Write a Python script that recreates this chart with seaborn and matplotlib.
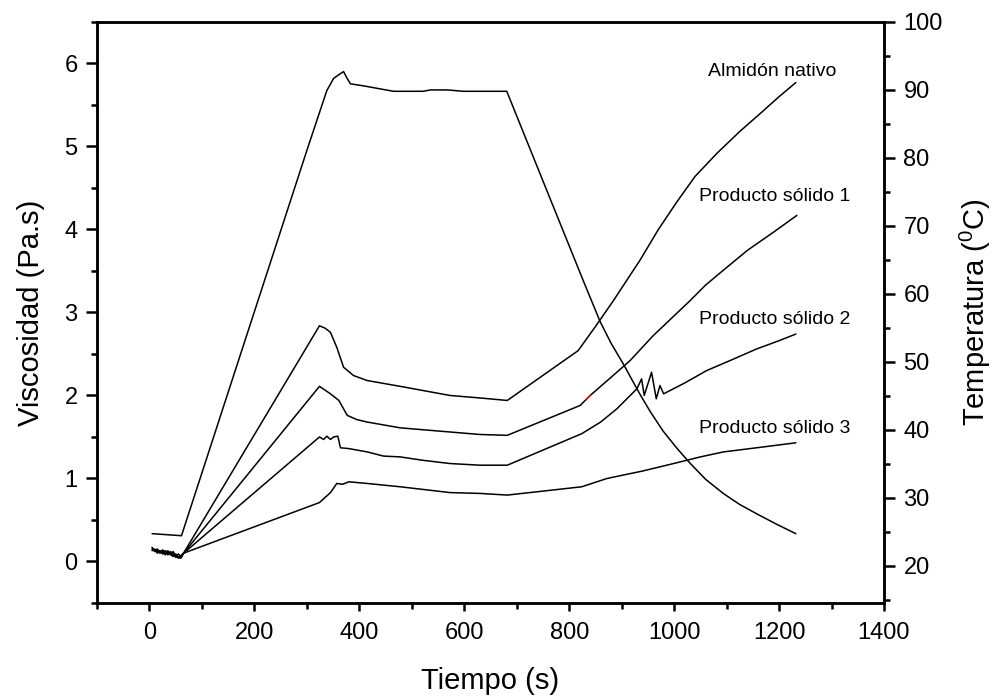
import numpy as np
import pandas as pd
import matplotlib
matplotlib.use("Agg")
import matplotlib.pyplot as plt
import seaborn as sns
from matplotlib.ticker import MultipleLocator

# ---------------- data ----------------
t_start = [5, 10, 15, 20, 25, 30, 35, 40, 45, 50, 55, 60]

an_start = [0.16, 0.13, 0.15, 0.11, 0.14, 0.10, 0.13, 0.08, 0.12, 0.07, 0.09, 0.06]
an_t = [65, 324, 335, 345, 357, 370, 389, 415, 478, 573, 630, 682, 817, 850, 884, 910, 935, 970, 1005,
        1040, 1082, 1125, 1170, 1200, 1232]
an_v = [0.10, 2.84, 2.81, 2.76, 2.58, 2.34, 2.24, 2.18, 2.11, 2.00, 1.97, 1.94, 2.54, 2.83, 3.14, 3.39, 3.63, 4.00, 4.33,
        4.64, 4.92, 5.18, 5.43, 5.60, 5.77]

ps1_start = [0.14, 0.15, 0.12, 0.13, 0.09, 0.12, 0.10, 0.12, 0.07, 0.09, 0.05, 0.07]
ps1_t = [65, 324, 345, 361, 377, 395, 415, 478, 573, 630, 682, 821, 832, 840, 880, 916, 960, 1000, 1030,
         1060, 1094, 1140, 1190, 1234]
ps1_v = [0.10, 2.11, 2.02, 1.94, 1.76, 1.71, 1.68, 1.61, 1.56, 1.53, 1.52, 1.88, 1.95, 2.00, 2.22, 2.42, 2.72, 2.96, 3.14,
         3.33, 3.51, 3.75, 3.97, 4.17]

ps2_start = [0.17, 0.12, 0.13, 0.10, 0.12, 0.08, 0.11, 0.09, 0.06, 0.08, 0.04, 0.05]
ps2_t = [65, 324, 332, 338, 345, 351, 359, 364, 380, 415, 446, 478, 520, 573, 630, 682, 824, 860, 891, 929,
         938, 943, 957, 966, 973, 980, 1020, 1062, 1110, 1157, 1200, 1232]
ps2_v = [0.10, 1.50, 1.47, 1.51, 1.47, 1.50, 1.51, 1.37, 1.36, 1.32, 1.27, 1.26, 1.22, 1.18, 1.16, 1.16, 1.54, 1.68, 1.84, 2.08,
         2.20, 2.00, 2.28, 1.96, 2.12, 2.02, 2.15, 2.30, 2.43, 2.56, 2.66, 2.74]

ps3_start = [0.13, 0.14, 0.10, 0.12, 0.11, 0.13, 0.08, 0.10, 0.09, 0.05, 0.06, 0.04]
ps3_t = [65, 324, 345, 357, 368, 380, 415, 478, 573, 630, 682, 824, 872, 940, 999, 1050, 1094, 1170, 1232]
ps3_v = [0.10, 0.71, 0.83, 0.94, 0.93, 0.96, 0.94, 0.90, 0.83, 0.82, 0.80, 0.90, 1.00, 1.09, 1.18, 1.26, 1.32, 1.38, 1.43]

temp_t = [5, 61, 300, 338, 351, 362, 370, 376, 383, 408, 465, 522, 535, 568, 598, 681, 760, 827, 859, 880, 903,
          935, 955, 979, 1005, 1030, 1060, 1094, 1125, 1158, 1195, 1232]
temp_c = [24.7, 24.4, 81.1, 89.9, 91.7, 92.3, 92.7, 91.8, 90.9, 90.6, 89.8, 89.8, 90.0, 90.0, 89.8, 89.8, 74.7, 61.9, 55.9, 52.7, 49.7,
          45.2, 42.6, 39.8, 37.3, 35.1, 32.7, 30.6, 29.0, 27.6, 26.1, 24.7]

series_names = ["Almidón nativo", "Producto sólido 1", "Producto sólido 2", "Producto sólido 3"]
label_t = [1187, 1192, 1192, 1192]
label_v = [5.90, 4.40, 2.92, 1.60]

# ---------------- build tables ----------------
frames = []
for name, s, tt, vv in zip(series_names,
                           [an_start, ps1_start, ps2_start, ps3_start],
                           [an_t, ps1_t, ps2_t, ps3_t],
                           [an_v, ps1_v, ps2_v, ps3_v]):
    frames.append(pd.DataFrame({"t": list(t_start) + list(tt), "v": list(s) + list(vv), "serie": name}))
visc = pd.concat(frames, ignore_index=True)
temp = pd.DataFrame({"t": temp_t, "T": temp_c})
red = visc[(visc.serie == "Producto sólido 1") & (visc.t >= 832) & (visc.t <= 840)]

# ---------------- style ----------------
sns.set_theme(style="white")
plt.rcParams["font.family"] = ["Liberation Sans", "DejaVu Sans"]
plt.rcParams["mathtext.fontset"] = "custom"
plt.rcParams["mathtext.rm"] = "Liberation Sans"
plt.rcParams["mathtext.it"] = "Liberation Sans:italic"
plt.rcParams["text.color"] = "black"
plt.rcParams["axes.labelcolor"] = "black"
plt.rcParams["xtick.color"] = "black"
plt.rcParams["ytick.color"] = "black"

fig = plt.figure(figsize=(9.93, 7.0), dpi=100)
ax = fig.add_axes([0.0977, 0.1386, 0.7925, 0.83])
ax2 = ax.twinx()

lw = 1.1
sns.lineplot(data=visc, x="t", y="v", hue="serie", units="serie", estimator=None, sort=False,
             palette=["black"] * 4, linewidth=lw, legend=False, ax=ax)
sns.lineplot(data=red, x="t", y="v", color="red", linewidth=lw, estimator=None, legend=False, ax=ax)
sns.lineplot(data=temp, x="t", y="T", color="black", linewidth=lw, estimator=None, sort=False,
             legend=False, ax=ax2)

for name, tx, vy in zip(series_names, label_t, label_v):
    ax.text(tx, vy, name, fontsize=14, ha="center", va="center", color="black")

# axes limits
ax.set_xlim(-100, 1400)
ax.set_ylim(-0.5, 6.5)
ax2.set_ylim(14.5, 100)

ax.xaxis.set_major_locator(MultipleLocator(200))
ax.xaxis.set_minor_locator(MultipleLocator(100))
ax.yaxis.set_major_locator(MultipleLocator(1))
ax.yaxis.set_minor_locator(MultipleLocator(0.5))
ax2.yaxis.set_major_locator(MultipleLocator(10))
ax2.yaxis.set_minor_locator(MultipleLocator(5))

sw = 1.8
for a in (ax, ax2):
    for sp in a.spines.values():
        sp.set_linewidth(sw)
        sp.set_color("black")

ax.tick_params(axis="x", which="major", direction="out", length=6, width=sw, labelsize=17, pad=8,
               bottom=True, top=False, colors="black")
ax.tick_params(axis="x", which="minor", direction="out", length=4, width=sw, bottom=True, top=False,
               colors="black")
ax.tick_params(axis="y", which="major", direction="out", length=8, width=sw, labelsize=17, pad=6,
               left=True, right=False, colors="black")
ax.tick_params(axis="y", which="minor", direction="out", length=4.5, width=sw, left=True, right=False,
               colors="black")

ax2.tick_params(axis="y", which="major", direction="out", length=8, width=sw, labelsize=17, pad=6,
                right=True, left=False, colors="black")
ax2.tick_params(axis="y", which="minor", direction="out", length=4.5, width=sw, right=True, left=False,
                colors="black")
ax2.tick_params(axis="x", which="major", direction="in", length=8, width=sw, top=True, bottom=False,
                labeltop=False, labelbottom=False, colors="black")
ax2.tick_params(axis="x", which="minor", direction="in", length=4, width=sw, top=True, bottom=False,
                colors="black")

ax.set_xlabel("Tiempo (s)", fontsize=21, labelpad=16, color="black")
ax.set_ylabel("Viscosidad (Pa.s)", fontsize=21, labelpad=14, color="black")
ax2.set_ylabel(r"Temperatura ($^{0}$C)", fontsize=21, labelpad=11, color="black")

fig.savefig("out.png", dpi=100)
